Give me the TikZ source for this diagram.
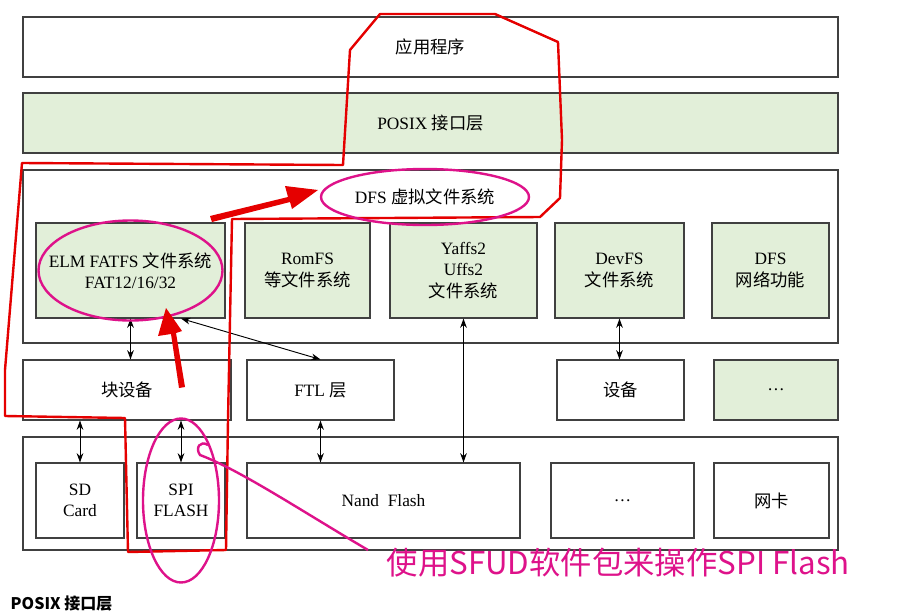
\documentclass[tikz,border=0pt]{standalone}
\usepackage{fontspec}
\setmainfont{Liberation Serif}
\newfontfamily\cjk{Noto Sans CJK SC}
\usetikzlibrary{arrows.meta}
\definecolor{greenbg}{HTML}{E2EFD9}
\tikzset{
  box/.style={draw=black!75, line width=0.8pt, inner sep=0pt, align=center, font=\fontsize{13}{16}\selectfont},
  gbox/.style={box, fill=greenbg},
  dbl/.style={{Stealth[length=7pt,width=5pt]}-{Stealth[length=7pt,width=5pt]}, line width=0.7pt},
  redline/.style={draw=red!90!black, line width=1.8pt, line join=round},
  pinkline/.style={draw=magenta!85!violet, line width=1.8pt}
}
\newcommand{\zh}[1]{{\cjk #1}}
\begin{document}
\begin{tikzpicture}[x=0.75pt, y=-0.75pt]
        \useasboundingbox[fill=white] (0,0) rectangle (918,615);

        % top layers
        \node[box, minimum width={815*0.75pt}, minimum height={60*0.75pt}] (app) at (430.5,47) {\zh{应用程序}};
        \node[gbox, minimum width={815*0.75pt}, minimum height={60*0.75pt}] (posix) at (430.5,123) {POSIX \zh{接口层}};

        % DFS
        \node[box, minimum width={815*0.75pt}, minimum height={173*0.75pt}] (dfs) at (430.5,256.5) {};
        \node[font=\fontsize{13}{16}\selectfont] (dfslabel) at (425,197) {DFS \zh{虚拟文件系统}};
        \node[gbox, minimum width={189*0.75pt}, minimum height={95*0.75pt}] (elm) at (130.5,270.5) {ELM FATFS \zh{文件系统}\\FAT12/16/32};
        \node[gbox, minimum width={125*0.75pt}, minimum height={95*0.75pt}] (romfs) at (307.5,270.5) {RomFS\\\zh{等文件系统}};
        \node[gbox, minimum width={147*0.75pt}, minimum height={95*0.75pt}] (yaffs) at (463.5,270.5) {Yaffs2\\Uffs2\\\zh{文件系统}};
        \node[gbox, minimum width={129*0.75pt}, minimum height={95*0.75pt}] (devfs) at (619.5,270.5) {DevFS\\\zh{文件系统}};
        \node[gbox, minimum width={117*0.75pt}, minimum height={95*0.75pt}] (net) at (770.5,270.5) {DFS\\\zh{网络功能}};

        % middle row
        \node[box, minimum width={208*0.75pt}, minimum height={60*0.75pt}] (blk) at (127,390) {\zh{块设备}};
        \node[box, minimum width={147*0.75pt}, minimum height={60*0.75pt}] (ftl) at (320.5,390) {FTL \zh{层}};
        \node[box, minimum width={127*0.75pt}, minimum height={60*0.75pt}] (dev) at (620.5,390) {\zh{设备}};
        \node[gbox, minimum width={124*0.75pt}, minimum height={60*0.75pt}] (more) at (776,390) {\dots};

        % drivers
        \node[box, minimum width={815*0.75pt}, minimum height={113*0.75pt}] (drv) at (430.5,493.5) {};
        \node[box, minimum width={88*0.75pt}, minimum height={75*0.75pt}] (sd) at (80,500.5) {SD\\Card};
        \node[box, minimum width={88*0.75pt}, minimum height={75*0.75pt}] (spi) at (181,500.5) {SPI\\FLASH};
        \node[box, minimum width={273*0.75pt}, minimum height={75*0.75pt}] (nand) at (383.5,500.5) {Nand\ \ Flash};
        \node[box, minimum width={143*0.75pt}, minimum height={75*0.75pt}] (etc) at (622.5,500.5) {\dots};
        \node[box, minimum width={115*0.75pt}, minimum height={75*0.75pt}] (nic) at (771.5,500.5) {\zh{网卡}};

        % connectors
        \draw[dbl] (elm.south) -- (elm.south |- blk.north);
        \draw[dbl] (elm.south -| spi) -- (ftl.north);
        \draw[dbl] (yaffs.south) -- (yaffs.south |- nand.north);
        \draw[dbl] (devfs.south) -- (devfs.south |- dev.north);
        \draw[dbl] (sd.north) -- (sd.north |- blk.south);
        \draw[dbl] (spi.north) -- (spi.north |- blk.south);
        \draw[dbl] (ftl.south) -- (ftl.south |- nand.north);

        % hand-drawn marks
        \draw[redline] (343,165) -- (350,50) -- (380,14) -- (495,14) -- (558,42) -- (562,140) -- (560,198) -- (540,217)
          -- (232,219) -- (228,420) -- (226,550) -- (128,552) -- (125,418) -- (5,416) -- (5,370) -- (22,163) -- cycle;
        \draw[pinkline] (elm.center) ellipse [x radius=92, y radius=50];
        \draw[pinkline] (dfslabel.center) ellipse [x radius=104, y radius=28];
        \draw[pinkline] (spi.center) ellipse [x radius=38, y radius=82];
        \draw[pinkline] (368,550) .. controls (300,510) and (240,470) .. (200,455) .. controls (195,448) and (200,440) .. (208,445);
        \fill[red!90!black] (210,216) -- (288,197) -- (285,186) -- (318,190) -- (292,209) -- (290,202) -- (212,222) -- cycle;
        \fill[red!90!black] (179,388) -- (171,334) -- (158,336) -- (166,308) -- (182,331) -- (176,333) -- (185,387) -- cycle;
        \node[anchor=west, text=magenta!85!violet, font=\cjk\fontsize{23.5}{28}\selectfont] (note) at (382,563) {使用SFUD软件包来操作SPI Flash};

        % heading below
        \node[anchor=west, font=\cjk\bfseries\fontsize{12}{14}\selectfont] (head) at (6,604) {POSIX 接口层};
    \end{tikzpicture}
\end{document}
